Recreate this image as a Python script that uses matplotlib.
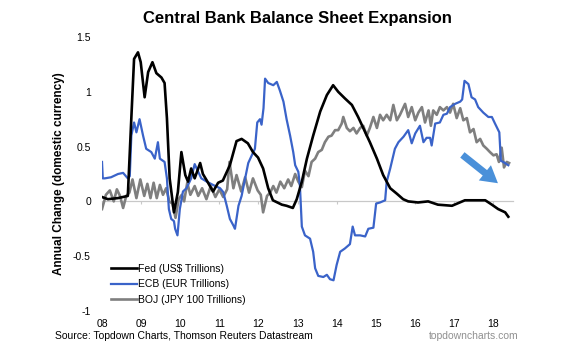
import matplotlib
matplotlib.use("Agg")
import matplotlib.pyplot as plt

# Fed balance sheet, annual change (US$ trillions)
fed_years = [2008.00, 2008.15, 2008.41, 2008.66, 2008.75, 2008.82, 2008.92, 2008.99,
             2009.09, 2009.18, 2009.29, 2009.39, 2009.52, 2009.60, 2009.66, 2009.73,
             2009.84, 2009.94, 2010.03, 2010.13, 2010.20, 2010.28, 2010.37, 2010.46,
             2010.51, 2010.58, 2010.68, 2010.84, 2010.97, 2011.09, 2011.27, 2011.44,
             2011.57, 2011.73, 2011.86, 2011.99, 2012.12, 2012.25, 2012.37, 2012.60,
             2012.72, 2012.88, 2012.98, 2013.11, 2013.24, 2013.40, 2013.58, 2013.75,
             2013.91, 2014.04, 2014.21, 2014.39, 2014.55, 2014.68, 2014.85, 2015.03,
             2015.19, 2015.37, 2015.54, 2015.70, 2015.83, 2016.08, 2016.34, 2016.59,
             2016.95, 2017.28, 2017.54, 2017.80, 2017.97, 2018.13, 2018.31, 2018.39]
fed_vals = [0.04, 0.02, 0.03, 0.05, 0.76, 1.30, 1.36, 1.27,
            0.95, 1.18, 1.27, 1.17, 1.13, 1.08, 0.76, 0.21,
            -0.10, 0.085, 0.45, 0.24, 0.18, 0.30, 0.21, 0.30,
            0.35, 0.25, 0.19, 0.09, 0.17, 0.19, 0.33, 0.55,
            0.57, 0.53, 0.45, 0.40, 0.30, 0.12, 0.01, -0.03,
            -0.04, -0.06, 0.02, 0.18, 0.39, 0.60, 0.82, 0.97,
            1.06, 1.00, 0.94, 0.88, 0.77, 0.67, 0.54, 0.39,
            0.24, 0.12, 0.07, 0.02, 0.00, -0.01, 0.00, -0.03,
            -0.04, 0.01, 0.01, 0.01, -0.03, -0.07, -0.10, -0.14]

# ECB balance sheet, annual change (EUR trillions)
ecb_years = [2008.00, 2008.02, 2008.07, 2008.23, 2008.41, 2008.54, 2008.66, 2008.71,
             2008.75, 2008.82, 2008.88, 2008.96, 2009.05, 2009.13, 2009.26, 2009.35,
             2009.43, 2009.48, 2009.60, 2009.66, 2009.71, 2009.77, 2009.84, 2009.87,
             2009.93, 2009.99, 2010.07, 2010.16, 2010.28, 2010.37, 2010.46, 2010.54,
             2010.68, 2010.84, 2011.02, 2011.10, 2011.19, 2011.27, 2011.36, 2011.40,
             2011.49, 2011.57, 2011.66, 2011.74, 2011.83, 2011.91, 2011.97, 2012.04,
             2012.08, 2012.13, 2012.17, 2012.25, 2012.38, 2012.47, 2012.55, 2012.64,
             2012.72, 2012.81, 2012.89, 2012.94, 2013.02, 2013.06, 2013.11, 2013.19,
             2013.32, 2013.40, 2013.45, 2013.53, 2013.66, 2013.75, 2013.83, 2013.92,
             2014.00, 2014.09, 2014.21, 2014.34, 2014.41, 2014.47, 2014.60, 2014.73,
             2014.81, 2014.94, 2015.01, 2015.11, 2015.24, 2015.28, 2015.37, 2015.49,
             2015.58, 2015.71, 2015.83, 2015.92, 2016.01, 2016.13, 2016.22, 2016.30,
             2016.39, 2016.43, 2016.52, 2016.64, 2016.73, 2016.82, 2016.90, 2017.03,
             2017.16, 2017.21, 2017.27, 2017.37, 2017.45, 2017.54, 2017.62, 2017.75,
             2017.88, 2017.97, 2018.05, 2018.16, 2018.20, 2018.26, 2018.39]
ecb_vals = [0.36, 0.21, 0.21, 0.22, 0.25, 0.26, 0.21, 0.23,
            0.60, 0.72, 0.63, 0.75, 0.60, 0.48, 0.45, 0.39,
            0.54, 0.39, 0.36, 0.21, -0.07, -0.16, -0.18, -0.25,
            -0.31, -0.07, 0.09, 0.12, 0.21, 0.34, 0.27, 0.21,
            0.18, 0.15, 0.12, 0.085, -0.04, -0.16, -0.22, -0.25,
            -0.04, 0.05, 0.21, 0.35, 0.42, 0.48, 0.72, 0.75,
            0.70, 0.85, 1.12, 1.08, 1.06, 1.09, 1.01, 0.91,
            0.75, 0.60, 0.45, 0.33, 0.27, 0.15, -0.23, -0.31,
            -0.34, -0.46, -0.61, -0.68, -0.69, -0.67, -0.71, -0.72,
            -0.58, -0.46, -0.43, -0.39, -0.23, -0.31, -0.31, -0.32,
            -0.25, -0.24, -0.02, -0.01, 0.01, 0.18, 0.30, 0.48,
            0.54, 0.59, 0.65, 0.53, 0.62, 0.69, 0.54, 0.58,
            0.58, 0.51, 0.71, 0.72, 0.79, 0.80, 0.86, 0.89,
            0.91, 0.93, 1.10, 1.07, 0.95, 0.93, 0.86, 0.81,
            0.77, 0.77, 0.71, 0.63, 0.37, 0.36, 0.33]

# BOJ balance sheet, annual change (JPY 100 trillions)
boj_years = [2008.00, 2008.10, 2008.20, 2008.30, 2008.38, 2008.46, 2008.54, 2008.62,
             2008.70, 2008.78, 2008.88, 2008.98, 2009.08, 2009.16, 2009.24, 2009.32,
             2009.40, 2009.48, 2009.56, 2009.64, 2009.72, 2009.80, 2009.88, 2009.96,
             2010.04, 2010.10, 2010.18, 2010.26, 2010.37, 2010.46, 2010.56, 2010.67,
             2010.78, 2010.90, 2011.00, 2011.10, 2011.20, 2011.26, 2011.36, 2011.44,
             2011.56, 2011.66, 2011.76, 2011.86, 2011.98, 2012.06, 2012.12, 2012.22,
             2012.30, 2012.38, 2012.46, 2012.56, 2012.66, 2012.76, 2012.84, 2012.94,
             2013.02, 2013.11, 2013.19, 2013.28, 2013.36, 2013.45, 2013.53, 2013.62,
             2013.70, 2013.79, 2013.87, 2013.96, 2014.04, 2014.13, 2014.17, 2014.26,
             2014.34, 2014.43, 2014.51, 2014.60, 2014.68, 2014.77, 2014.85, 2014.94,
             2015.03, 2015.11, 2015.19, 2015.28, 2015.37, 2015.45, 2015.54, 2015.62,
             2015.75, 2015.83, 2015.92, 2016.01, 2016.09, 2016.18, 2016.26, 2016.35,
             2016.41, 2016.47, 2016.56, 2016.64, 2016.73, 2016.82, 2016.90, 2016.98,
             2017.07, 2017.16, 2017.24, 2017.33, 2017.41, 2017.50, 2017.58, 2017.67,
             2017.75, 2017.84, 2017.92, 2018.01, 2018.09, 2018.15, 2018.22, 2018.28,
             2018.35, 2018.41]
boj_vals = [-0.07, 0.06, 0.10, 0.00, 0.11, 0.05, -0.06, 0.05,
            0.08, 0.20, 0.03, 0.20, 0.05, 0.16, 0.03, 0.17,
            0.03, 0.15, 0.06, 0.12, 0.00, -0.02, -0.15, 0.02,
            0.06, 0.00, 0.17, 0.06, 0.14, 0.05, 0.12, 0.02,
            0.14, 0.04, 0.11, 0.04, 0.11, 0.36, 0.12, 0.24,
            0.09, 0.22, 0.08, 0.21, 0.10, 0.06, -0.10, 0.05,
            0.08, 0.14, 0.08, 0.18, 0.12, 0.20, 0.14, 0.25,
            0.18, 0.13, 0.28, 0.23, 0.36, 0.39, 0.45, 0.47,
            0.54, 0.59, 0.60, 0.65, 0.65, 0.71, 0.77, 0.67,
            0.64, 0.67, 0.62, 0.67, 0.69, 0.60, 0.67, 0.77,
            0.67, 0.79, 0.74, 0.79, 0.74, 0.88, 0.74, 0.79,
            0.89, 0.77, 0.86, 0.74, 0.81, 0.86, 0.72, 0.83,
            0.69, 0.83, 0.79, 0.86, 0.83, 0.86, 0.81, 0.89,
            0.76, 0.85, 0.74, 0.76, 0.63, 0.66, 0.54, 0.57,
            0.51, 0.48, 0.45, 0.42, 0.43, 0.36, 0.49, 0.31,
            0.36, 0.35]

year_ticks = list(range(2008, 2019))
year_labels = ["08", "09", "10", "11", "12", "13", "14", "15", "16", "17", "18"]
y_ticks = [-1, -0.5, 0, 0.5, 1, 1.5]
y_labels = ["-1", "-0.5", "0", "0.5", "1", "1.5"]

plt.rcParams["font.family"] = ["Liberation Sans", "DejaVu Sans"]

fig = plt.figure(figsize=(5.75, 3.57), dpi=100)
ax = fig.add_axes([0.1774, 0.1289, 0.7141, 0.7675])

ax.plot(boj_years, boj_vals, color="#7f7f7f", lw=1.9, label="BOJ (JPY 100 Trillions)", zorder=3)
ax.plot(ecb_years, ecb_vals, color="#3a63c9", lw=1.6, label="ECB (EUR Trillions)", zorder=4)
ax.plot(fed_years, fed_vals, color="black", lw=1.9, label="Fed (US$ Trillions)", zorder=5)

ax.set_xlim(2008, 2018.5)
ax.set_ylim(-1, 1.5)
for s in ax.spines.values():
    s.set_visible(False)

ax.set_xticks(year_ticks)
ax.set_xticklabels(year_labels)
ax.set_yticks(y_ticks)
ax.set_yticklabels(y_labels)
ax.tick_params(axis="both", length=0, labelsize=7.5, colors="black")
ax.tick_params(axis="y", pad=8)
ax.tick_params(axis="x", pad=6)

# zero line with small year ticks
zero = ax.secondary_xaxis(0.4)
zero.set_xticks(year_ticks)
zero.set_xticklabels([])
zero.tick_params(length=2.5, width=0.8, color="#c8c8c8")
zero.spines["bottom"].set_color("#c8c8c8")
zero.spines["bottom"].set_linewidth(0.9)

ax.set_ylabel("Annual Change (domestic currency)", fontsize=8.5, fontweight="bold", labelpad=6)

handles, labels = ax.get_legend_handles_labels()
order = [2, 1, 0]
ax.legend([handles[i] for i in order], [labels[i] for i in order],
          loc="lower left", bbox_to_anchor=(0.005, -0.005), frameon=False,
          fontsize=7.5, handlelength=2.5, handletextpad=0.1, labelspacing=0.55,
          borderaxespad=0.3)

ax.annotate("", xy=(2018.18, 0.15), xytext=(2017.16, 0.44),
            arrowprops=dict(arrowstyle="simple,head_width=1.4,head_length=1.2,tail_width=0.5",
                            color="#4a90d9", lw=0))

fig.text(297 / 575, 1 - 18 / 357, "Central Bank Balance Sheet Expansion",
         ha="center", va="center", fontsize=12, fontweight="bold")
fig.text(55 / 575, 1 - 336 / 357, "Source: Topdown Charts, Thomson Reuters Datastream",
         ha="left", va="center", fontsize=7.5)
fig.text(519 / 575, 1 - 336 / 357, "topdowncharts.com",
         ha="right", va="center", fontsize=7.5, color="#909090")

fig.savefig("out.png", dpi=100)
